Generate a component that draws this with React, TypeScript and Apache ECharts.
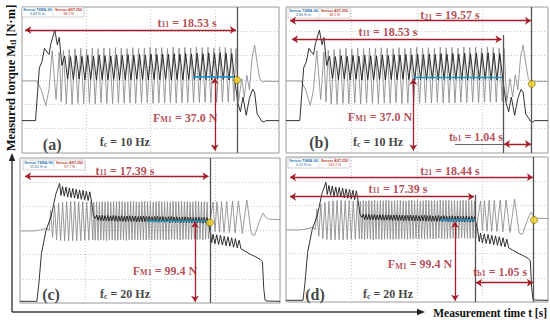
import React, { useEffect, useRef } from "react";
import * as echarts from "echarts";

type Pt = [number, number];
type Seg = Pt[] | { span: [number, number]; peaks: number[]; troughs: number[] };

// ---------------- DATA (x: 4 screen divisions of time, y: 6 screen divisions of signal) ----------------
const panelTags = ["(a)", "(b)", "(c)", "(d)"];
const excitationHz = ["10", "10", "20", "20"];
const t11Values = ["18.53", "18.53", "17.39", "17.39"];
const t21Values = ["", "19.57", "", "18.44"];
const tb1Values = ["", "1.04", "", "1.05"];
const forceValues = ["37.0", "37.0", "99.4", "99.4"];
const torqueSensor = "Sensor T4WA-S6";
const forceSensor = "Sensor AST-250";
const torqueReadings = ["3.84 N·m", "4.84 N·m", "15.81 N·m", "6.22 N·m"];
const forceReadings = ["38.2 N", "38.2 N", "87.7 N", "105.2 N"];

// 10 Hz record (panels a, b)
const grey10Start: Pt[] = [[0, 2.96], [0.23, 2.96], [0.3, 2.6], [0.37, 1.95], [0.42, 2.6], [0.47, 4.2], [0.53, 2.2], [0.58, 4.15], [0.61, 2.1]];
const grey10Span: [number, number] = [0.645, 3.3];
const grey10Peaks = [4.22, 4.25, 4.28, 4.3, 4.27, 4.31, 4.29, 4.32, 4.3, 4.33, 4.31, 4.29, 4.33, 4.3, 4.32, 4.34, 4.31, 4.33, 4.3, 4.35, 4.32, 4.34, 4.31, 4.36, 4.33, 4.35, 4.32, 4.36, 4.34, 4.3];
const grey10Troughs = [2.02, 2.0, 2.04, 2.03, 2.05, 2.02, 2.06, 2.04, 2.03, 2.05, 2.04, 2.06, 2.03, 2.05, 2.07, 2.04, 2.06, 2.05, 2.08, 2.05, 2.07, 2.06, 2.08, 2.07, 2.09, 2.06, 2.08, 2.1, 2.09, 2.12];
const grey10End: Pt[] = [[3.33, 4.3], [3.37, 2.1], [3.42, 3.05], [3.46, 2.3], [3.5, 3.2], [3.54, 2.6], [3.58, 3.9], [3.62, 4.44], [3.66, 3.7], [3.7, 3.05], [3.74, 2.92], [3.78, 2.95], [4.0, 2.94]];

const black10Start: Pt[] = [[0, 1.33], [0.21, 1.33], [0.24, 2.4], [0.27, 3.5], [0.31, 3.75], [0.35, 4.3], [0.39, 4.15], [0.42, 4.05], [0.45, 4.5], [0.51, 5.05], [0.55, 4.45], [0.58, 4.75], [0.62, 3.6]];
const black10Span: [number, number] = [0.665, 3.31];
const black10Peaks = [3.98, 3.96, 4.0, 3.97, 4.01, 3.98, 4.02, 4.0, 3.99, 4.03, 4.01, 4.04, 4.02, 4.05, 4.03, 4.06, 4.04, 4.07, 4.05, 4.08, 4.06, 4.09, 4.07, 4.1, 4.08, 4.11, 4.09, 4.12, 4.1, 4.08];
const black10Troughs = [3.05, 3.02, 3.04, 3.01, 3.03, 3.0, 3.02, 3.01, 3.03, 3.0, 3.02, 3.01, 3.03, 3.02, 3.0, 3.02, 3.01, 3.03, 3.0, 3.02, 3.01, 3.03, 3.02, 3.0, 3.02, 3.01, 3.03, 3.02, 3.0, 3.02];
const black10End: Pt[] = [[3.36, 2.05], [3.4, 1.7], [3.44, 2.3], [3.49, 1.55], [3.54, 2.25], [3.59, 2.62], [3.62, 2.5], [3.66, 1.6], [3.7, 1.45], [3.73, 1.31], [3.77, 1.27], [3.79, 1.33], [4.0, 1.33]];

// 20 Hz record (panels c, d)
const grey20Start: Pt[] = [[0, 2.98], [0.22, 2.98], [0.32, 3.03], [0.41, 3.09], [0.45, 3.0]];
const grey20SpanA: [number, number] = [0.47, 1.12];
const grey20PeaksA = [3.85, 4.05, 4.13, 4.17, 4.19, 4.2, 4.21, 4.19, 4.2, 4.18, 4.2];
const grey20TroughsA = [2.72, 2.62, 2.58, 2.57, 2.57, 2.58, 2.57, 2.58, 2.59, 2.6, 2.61];
const grey20SpanB: [number, number] = [1.135, 2.9];
const grey20PeaksB = [4.17, 4.19, 4.18, 4.2, 4.19, 4.21, 4.18, 4.2, 4.19, 4.21, 4.2, 4.18, 4.19, 4.21, 4.2, 4.19, 4.18, 4.2, 4.21, 4.19, 4.2, 4.18, 4.19, 4.21, 4.2, 4.19, 4.2, 4.18, 4.21, 4.19, 4.2, 4.21, 4.19, 4.2, 4.18, 4.19, 4.21, 4.2, 4.19, 4.2, 4.18];
const grey20TroughsB = [2.6, 2.59, 2.61, 2.6, 2.58, 2.6, 2.61, 2.59, 2.6, 2.62, 2.6, 2.59, 2.61, 2.6, 2.62, 2.61, 2.6, 2.62, 2.61, 2.63, 2.61, 2.62, 2.6, 2.62, 2.63, 2.61, 2.62, 2.64, 2.62, 2.63, 2.61, 2.63, 2.64, 2.62, 2.63, 2.65, 2.63, 2.64, 2.62, 2.64, 2.66];
const grey20End: Pt[] = [[2.93, 3.5], [2.97, 4.18], [3.0, 2.95], [3.03, 4.19], [3.07, 2.93], [3.1, 4.2], [3.14, 2.92], [3.18, 4.2], [3.22, 2.92], [3.27, 4.22], [3.31, 2.9], [3.36, 4.22], [3.42, 2.88], [3.49, 4.26], [3.56, 2.85], [3.61, 2.8], [3.68, 3.35], [3.74, 3.72], [3.78, 3.55], [3.82, 3.47], [4.0, 3.45]];

const black20Start: Pt[] = [[0, 0.07], [0.26, 0.07], [0.29, 0.8], [0.33, 2.05], [0.4, 3.0], [0.48, 3.6], [0.55, 4.5], [0.61, 4.95], [0.63, 4.45]];
const black20SpanA: [number, number] = [0.655, 1.1];
const black20PeaksA = [4.82, 4.8, 4.76, 4.74, 4.71, 4.68, 4.66, 4.62, 4.6];
const black20TroughsA = [4.42, 4.38, 4.36, 4.34, 4.31, 4.29, 4.27, 4.24, 4.2];
const black20Mid: Pt[] = [[1.13, 3.62], [1.16, 3.5]];
const black20SpanB: [number, number] = [1.18, 2.9];
const black20PeaksB = [3.64, 3.62, 3.63, 3.61, 3.62, 3.6, 3.62, 3.61, 3.6, 3.61, 3.59, 3.6, 3.61, 3.59, 3.6, 3.58, 3.59, 3.6, 3.58, 3.59, 3.57, 3.58, 3.59, 3.57, 3.58, 3.56, 3.57, 3.58, 3.56, 3.57, 3.55, 3.56, 3.57, 3.55, 3.56, 3.54, 3.55, 3.56, 3.54, 3.55, 3.53];
const black20TroughsB = [3.42, 3.41, 3.4, 3.41, 3.39, 3.4, 3.39, 3.38, 3.39, 3.38, 3.37, 3.38, 3.37, 3.38, 3.36, 3.37, 3.36, 3.37, 3.35, 3.36, 3.35, 3.36, 3.34, 3.35, 3.34, 3.35, 3.33, 3.34, 3.33, 3.34, 3.32, 3.33, 3.32, 3.33, 3.31, 3.32, 3.31, 3.32, 3.3, 3.31, 3.3];
const black20Drop: Pt[] = [[2.93, 2.9], [2.95, 2.5]];
const black20SpanC: [number, number] = [2.97, 3.4];
const black20PeaksC = [2.85, 2.82, 2.8, 2.76, 2.74, 2.7, 2.66, 2.6];
const black20TroughsC = [2.45, 2.42, 2.4, 2.37, 2.35, 2.31, 2.28, 2.24];
const black20End: Pt[] = [[3.46, 2.15], [3.54, 2.02], [3.62, 1.92], [3.7, 1.8], [3.73, 1.7], [3.75, 0.6], [3.77, 0.12], [3.8, 0.08], [4.0, 0.07]];

// ---------------- build helpers ----------------
function wave(segs: Seg[]): Pt[] {
  const out: Pt[] = [];
  for (const s of segs) {
    if (Array.isArray(s)) {
      out.push(...s);
    } else {
      const n = Math.min(s.peaks.length, s.troughs.length);
      const step = (s.span[1] - s.span[0]) / (2 * n - 1);
      for (let i = 0; i < n; i++) {
        out.push([s.span[0] + 2 * i * step, s.peaks[i]]);
        out.push([s.span[0] + (2 * i + 1) * step, s.troughs[i]]);
      }
    }
  }
  return out;
}

const grey10 = wave([grey10Start, { span: grey10Span, peaks: grey10Peaks, troughs: grey10Troughs }, grey10End]);
const black10 = wave([black10Start, { span: black10Span, peaks: black10Peaks, troughs: black10Troughs }, black10End]);
const grey20 = wave([
  grey20Start,
  { span: grey20SpanA, peaks: grey20PeaksA, troughs: grey20TroughsA },
  { span: grey20SpanB, peaks: grey20PeaksB, troughs: grey20TroughsB },
  grey20End,
]);
const black20 = wave([
  black20Start,
  { span: black20SpanA, peaks: black20PeaksA, troughs: black20TroughsA },
  black20Mid,
  { span: black20SpanB, peaks: black20PeaksB, troughs: black20TroughsB },
  black20Drop,
  { span: black20SpanC, peaks: black20PeaksC, troughs: black20TroughsC },
  black20End,
]);

// ---------------- layout (positions in axis units) ----------------
type Ann = {
  grid: { left: number; top: number; width: number; height: number };
  grey: Pt[];
  black: Pt[];
  markers: Pt[][];
  thin: Pt[][];
  arrows: Pt[][];
  blue: Pt[];
  dot: Pt;
  t11: Pt;
  t21?: Pt;
  tb1?: Pt;
  force: Pt;
  tag: Pt;
  fc: Pt;
  legend: [number, number];
};

const layout: Ann[] = [
  {
    grid: { left: 22, top: 7, width: 257, height: 146 },
    grey: grey10, black: black10,
    markers: [[[3.346, 0], [3.346, 6]]],
    thin: [],
    arrows: [[[0.05, 5.05], [3.33, 5.05]], [[3.0, 3.08], [3.0, 0.1]]],
    blue: [[2.66, 3.13], [3.3, 3.13]],
    dot: [3.346, 3.0],
    t11: [2.57, 5.36], force: [2.54, 1.44], tag: [0.47, 0.36], fc: [1.6, 0.44],
    legend: [22, 7],
  },
  {
    grid: { left: 286, top: 7, width: 262, height: 146 },
    grey: grey10, black: black10,
    markers: [[[3.318, 0], [3.318, 4.85]], [[3.751, 0], [3.751, 6]]],
    thin: [[[2.58, 0.37], [3.318, 0.37]]],
    arrows: [[[0.06, 5.44], [3.74, 5.44]], [[0.09, 4.67], [3.29, 4.67]], [[1.944, 3.05], [1.944, 0.1]], [[3.33, 0.37], [3.74, 0.37]]],
    blue: [[1.944, 3.1], [3.3, 3.1]],
    dot: [3.751, 2.84],
    t21: [2.504, 5.67], t11: [1.557, 4.99], force: [1.435, 1.48], tb1: [2.9, 0.66], tag: [0.504, 0.45], fc: [1.405, 0.45],
    legend: [288, 8],
  },
  {
    grid: { left: 20, top: 158, width: 260, height: 145 },
    grey: grey20, black: black20,
    markers: [[[2.923, 0], [2.923, 6]]],
    thin: [],
    arrows: [[[0.077, 5.25], [2.9, 5.25]], [[2.692, 3.36], [2.692, 0.05]]],
    blue: [[1.95, 3.38], [2.9, 3.38]],
    dot: [2.923, 3.33],
    t11: [1.615, 5.47], force: [2.23, 1.34], tag: [0.477, 0.37], fc: [1.615, 0.37],
    legend: [23, 160],
  },
  {
    grid: { left: 286, top: 157, width: 262, height: 145 },
    grey: grey20, black: black20,
    markers: [[[2.885, 0], [2.885, 4.43]], [[3.776, 0], [3.776, 6]]],
    thin: [],
    arrows: [[[0.061, 5.16], [3.77, 5.16]], [[0.061, 4.36], [2.87, 4.36]], [[2.58, 3.32], [2.58, 0.05]], [[2.9, 0.8], [3.77, 0.8]]],
    blue: [[2.351, 3.39], [2.885, 3.39]],
    dot: [3.786, 3.39],
    t21: [2.504, 5.43], t11: [1.71, 4.68], force: [2.046, 1.57], tb1: [3.27, 1.25], tag: [0.443, 0.33], fc: [1.557, 0.33],
    legend: [288, 158],
  },
];

const SERIF = "'Liberation Serif', 'DejaVu Serif', serif";
const RED = "#a3202a";

const rich: any = {
  r: { fontFamily: SERIF, fontWeight: "bold", fontSize: 12, color: RED },
  rs: { fontFamily: SERIF, fontWeight: "bold", fontSize: 8, color: RED, verticalAlign: "bottom" },
  k: { fontFamily: SERIF, fontWeight: "bold", fontSize: 16, color: "#111" },
  f: { fontFamily: SERIF, fontWeight: "bold", fontSize: 12, color: "#111" },
  fs: { fontFamily: SERIF, fontWeight: "bold", fontSize: 8, color: "#111", verticalAlign: "bottom" },
};

function buildOption() {
  const grids: any[] = [];
  const xAxes: any[] = [];
  const yAxes: any[] = [];
  const series: any[] = [];
  const graphics: any[] = [];

  layout.forEach((p, i) => {
    grids.push({ ...p.grid, show: true, borderColor: "#9a9a9a", borderWidth: 1, backgroundColor: "#fff", containLabel: false });
    const split = { show: true, lineStyle: { color: "#c8c8c8", width: 1, type: [1, 2] } };
    xAxes.push({ gridIndex: i, type: "value", min: 0, max: 4, interval: 1, axisLine: { show: false }, axisTick: { show: false }, axisLabel: { show: false }, splitLine: split });
    yAxes.push({ gridIndex: i, type: "value", min: 0, max: 6, interval: 1, axisLine: { show: false }, axisTick: { show: false }, axisLabel: { show: false }, splitLine: split });
    const ax = { xAxisIndex: i, yAxisIndex: i, silent: true };

    series.push({ ...ax, type: "line", data: p.grey, showSymbol: false, symbol: "none", lineStyle: { color: "#8e8e8e", width: 0.9 }, z: 2 });
    series.push({ ...ax, type: "line", data: p.black, showSymbol: false, symbol: "none", lineStyle: { color: "#1c1c1c", width: 0.9 }, z: 3 });
    series.push({ ...ax, type: "line", data: p.blue, showSymbol: false, symbol: "none", lineStyle: { color: "#2291c6", width: 1.6 }, z: 4 });
    series.push({ ...ax, type: "lines", coordinateSystem: "cartesian2d", symbol: "none", data: p.markers.map((c) => ({ coords: c })), lineStyle: { color: "#555", width: 1.3, opacity: 1 }, z: 5 });
    if (p.thin.length) {
      series.push({ ...ax, type: "lines", coordinateSystem: "cartesian2d", symbol: "none", data: p.thin.map((c) => ({ coords: c })), lineStyle: { color: "#666", width: 1.2, opacity: 1 }, z: 5 });
    }
    series.push({ ...ax, type: "lines", coordinateSystem: "cartesian2d", symbol: ["arrow", "arrow"], symbolSize: 6, data: p.arrows.map((c) => ({ coords: c })), lineStyle: { color: RED, width: 1.3, opacity: 1 }, z: 6 });
    series.push({ ...ax, type: "scatter", data: [p.dot], symbolSize: 7, itemStyle: { color: "#f4d21f", borderColor: "#7a6400", borderWidth: 0.8 }, z: 7 });

    const labels: any[] = [];
    labels.push({ value: p.t11, label: { formatter: `{r|t}{rs|11}{r| = ${t11Values[i]} s}` } });
    if (p.t21) labels.push({ value: p.t21, label: { formatter: `{r|t}{rs|21}{r| = ${t21Values[i]} s}` } });
    if (p.tb1) labels.push({ value: p.tb1, label: { formatter: `{r|t}{rs|b1}{r| = ${tb1Values[i]} s}` } });
    labels.push({ value: p.force, label: { formatter: `{r|F}{rs|M1}{r| = ${forceValues[i]} N}` } });
    labels.push({ value: p.tag, label: { formatter: `{k|${panelTags[i]}}` } });
    labels.push({ value: p.fc, label: { formatter: `{f|f}{fs|c}{f| = ${excitationHz[i]} Hz}` } });
    series.push({
      ...ax,
      type: "scatter",
      symbolSize: 0,
      data: labels,
      z: 8,
      label: { show: true, position: "inside", align: "center", verticalAlign: "middle", rich },
    });

    // sensor read-out box
    const [lx, ly] = p.legend;
    graphics.push({
      type: "group",
      x: lx,
      y: ly,
      children: [
        { type: "rect", shape: { x: 0, y: 0, width: 62, height: 10 }, style: { fill: "#fff", stroke: "#b5b5b5", lineWidth: 0.6 } },
        { type: "line", shape: { x1: 31, y1: 0, x2: 31, y2: 10 }, style: { stroke: "#c5c5c5", lineWidth: 0.5 } },
        { type: "text", x: 15.5, y: 2.7, style: { text: torqueSensor, fill: "#2a78b4", font: "bold 3.6px 'Liberation Sans', sans-serif", align: "center", verticalAlign: "middle" } },
        { type: "text", x: 15.5, y: 7.3, style: { text: torqueReadings[i], fill: "#2a6a9e", font: "3.6px 'Liberation Sans', sans-serif", align: "center", verticalAlign: "middle" } },
        { type: "text", x: 46.5, y: 2.7, style: { text: forceSensor, fill: "#c0392b", font: "bold 3.6px 'Liberation Sans', sans-serif", align: "center", verticalAlign: "middle" } },
        { type: "text", x: 46.5, y: 7.3, style: { text: forceReadings[i], fill: "#c0392b", font: "3.6px 'Liberation Sans', sans-serif", align: "center", verticalAlign: "middle" } },
      ],
    });
  });

  // outer axes and titles
  graphics.push(
    { type: "line", shape: { x1: 12, y1: 160, x2: 12, y2: 312 }, style: { stroke: "#3a3a3a", lineWidth: 1.4 } },
    { type: "polygon", shape: { points: [[12, 153], [8.8, 161], [15.2, 161]] }, style: { fill: "#222" } },
    { type: "line", shape: { x1: 12, y1: 312, x2: 418, y2: 312 }, style: { stroke: "#3a3a3a", lineWidth: 1.4 } },
    { type: "polygon", shape: { points: [[425, 312], [417, 308.8], [417, 315.2]] }, style: { fill: "#222" } },
    {
      type: "text",
      x: 547,
      y: 313,
      style: {
        text: "Measurement time t [s]",
        fill: "#111",
        font: `bold 11.5px ${SERIF}`,
        align: "right",
        verticalAlign: "middle",
      },
    },
    {
      type: "text",
      x: 11,
      y: 78,
      rotation: Math.PI / 2,
      style: {
        text: "{a|Measured torque M}{b|tl}{a| [N·m]}",
        rich: {
          a: { fontFamily: SERIF, fontWeight: "bold", fontSize: 12.5, fill: "#111" },
          b: { fontFamily: SERIF, fontWeight: "bold", fontSize: 8.5, fill: "#111", verticalAlign: "bottom" },
        },
        align: "center",
        verticalAlign: "middle",
      },
    }
  );

  return {
    animation: false,
    backgroundColor: "#fff",
    grid: grids,
    xAxis: xAxes,
    yAxis: yAxes,
    series,
    graphic: { elements: graphics },
  };
}

export default function App() {
  const ref = useRef<HTMLDivElement>(null);
  useEffect(() => {
    if (!ref.current) return;
    const chart = echarts.init(ref.current, undefined, { renderer: "svg" });
    chart.setOption(buildOption() as any);
    return () => chart.dispose();
  }, []);
  return <div ref={ref} style={{ position: "fixed", left: 0, top: 0, width: 550, height: 323, background: "#fff" }} />;
}
